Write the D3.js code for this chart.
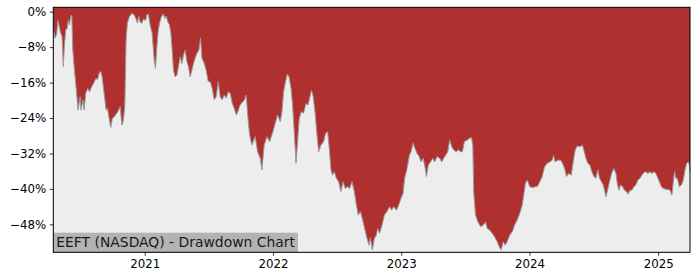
<!DOCTYPE html>
<html>
<head>
<meta charset="utf-8">
<script src="https://cdn.jsdelivr.net/npm/d3@7"></script>
<style>
  html, body { margin: 0; padding: 0; background: #ffffff; }
  svg { display: block; }
  text { font-family: "DejaVu Sans", sans-serif; }
</style>
</head>
<body>
<script>
// Decimal-year time stamps
const dates = [
  2020.290,2020.304,2020.317,2020.325,2020.337,2020.348,2020.358,2020.368,2020.376,2020.387,
  2020.397,2020.407,2020.415,2020.426,2020.434,2020.442,2020.452,2020.467,2020.483,2020.499,
  2020.506,2020.520,2020.530,2020.543,2020.559,2020.571,2020.590,2020.610,2020.623,2020.634,
  2020.647,2020.660,2020.670,2020.686,2020.701,2020.712,2020.725,2020.738,2020.750,2020.766,
  2020.785,2020.800,2020.811,2020.824,2020.836,2020.847,2020.857,2020.867,2020.883,2020.902,
  2020.920,2020.935,2020.945,2020.956,2020.966,2020.980,2020.992,2021.008,2021.019,2021.031,
  2021.044,2021.060,2021.076,2021.086,2021.097,2021.107,2021.117,2021.133,2021.146,2021.159,
  2021.169,2021.182,2021.195,2021.206,2021.216,2021.226,2021.239,2021.253,2021.265,2021.278,
  2021.292,2021.304,2021.317,2021.331,2021.343,2021.356,2021.370,2021.382,2021.395,2021.409,
  2021.424,2021.437,2021.448,2021.466,2021.481,2021.497,2021.512,2021.528,2021.543,2021.559,
  2021.575,2021.590,2021.606,2021.621,2021.637,2021.653,2021.668,2021.684,2021.699,2021.715,
  2021.728,2021.741,2021.754,2021.767,2021.780,2021.793,2021.803,2021.819,2021.837,2021.863,
  2021.881,2021.902,2021.915,2021.933,2021.954,2021.975,2022.001,2022.019,2022.037,2022.058,
  2022.071,2022.084,2022.099,2022.113,2022.126,2022.142,2022.154,2022.167,2022.181,2022.193,
  2022.206,2022.222,2022.240,2022.258,2022.274,2022.287,2022.302,2022.315,2022.331,2022.344,
  2022.357,2022.375,2022.396,2022.411,2022.427,2022.440,2022.453,2022.466,2022.479,2022.495,
  2022.513,2022.531,2022.547,2022.565,2022.583,2022.598,2022.617,2022.635,2022.651,2022.666,
  2022.682,2022.700,2022.715,2022.734,2022.750,2022.760,2022.775,2022.791,2022.807,2022.817,
  2022.832,2022.851,2022.869,2022.890,2022.910,2022.926,2022.942,2022.963,2022.981,2022.999,
  2023.015,2023.027,2023.046,2023.064,2023.077,2023.093,2023.108,2023.124,2023.140,2023.155,
  2023.171,2023.183,2023.197,2023.212,2023.228,2023.246,2023.261,2023.280,2023.300,2023.316,
  2023.331,2023.347,2023.363,2023.378,2023.394,2023.409,2023.428,2023.446,2023.462,2023.477,
  2023.493,2023.514,2023.529,2023.547,2023.558,2023.565,2023.579,2023.597,2023.618,2023.639,
  2023.657,2023.670,2023.690,2023.709,2023.727,2023.748,2023.763,2023.779,2023.795,2023.810,
  2023.826,2023.846,2023.865,2023.883,2023.904,2023.924,2023.943,2023.955,2023.968,2023.982,
  2024.002,2024.023,2024.046,2024.060,2024.080,2024.099,2024.117,2024.138,2024.158,2024.177,
  2024.187,2024.200,2024.220,2024.241,2024.257,2024.273,2024.288,2024.306,2024.325,2024.340,
  2024.356,2024.372,2024.392,2024.411,2024.423,2024.439,2024.454,2024.470,2024.485,2024.501,
  2024.517,2024.532,2024.545,2024.561,2024.574,2024.584,2024.595,2024.608,2024.623,2024.639,
  2024.657,2024.673,2024.683,2024.696,2024.709,2024.725,2024.740,2024.756,2024.769,2024.782,
  2024.797,2024.813,2024.828,2024.844,2024.860,2024.875,2024.891,2024.906,2024.922,2024.938,
  2024.953,2024.969,2024.984,2025.000,2025.016,2025.031,2025.047,2025.062,2025.078,2025.094,
  2025.109,2025.120,2025.130,2025.140,2025.151,2025.167,2025.183,2025.198,2025.211,2025.224,
  2025.237,2025.245,2025.250
];

// Drawdown in percent
const drawdown = [
  -3.8,-6.0,-4.9,-2.0,-3.4,-4.9,-5.6,-12.4,-7.9,-4.1,
  -3.8,-1.9,-3.0,-1.0,-0.75,-8.7,-12.4,-16.9,-22.2,-19.2,
  -22.2,-19.9,-22.2,-18.4,-17.3,-18.1,-16.9,-15.8,-15.0,-15.4,
  -13.9,-13.5,-14.7,-18.4,-22.2,-21.8,-24.1,-26.1,-24.1,-23.7,
  -22.9,-22.2,-21.4,-25.6,-24.5,-21.4,-6.4,-2.6,-1.1,-0.4,
  -0.75,-1.7,-2.6,-1.1,-2.3,-2.6,-1.7,-2.0,-0.75,-0.5,
  -3.0,-4.9,-10.9,-12.8,-7.9,-4.5,-2.6,-1.1,-0.5,-1.5,
  -1.0,-2.3,-3.0,-4.9,-8.7,-13.2,-14.7,-14.3,-12.4,-10.2,
  -11.7,-9.8,-8.7,-11.3,-12.4,-14.7,-13.2,-11.7,-10.5,-9.4,
  -8.7,-6.0,-10.5,-11.7,-13.2,-15.8,-15.8,-17.3,-19.9,-19.2,
  -15.8,-19.2,-19.9,-18.8,-19.5,-18.1,-18.4,-20.7,-21.8,-23.3,
  -22.6,-21.4,-20.7,-20.3,-19.9,-18.8,-22.9,-27.8,-30.1,-28.2,
  -31.6,-33.1,-35.7,-30.1,-28.2,-29.3,-27.1,-25.2,-23.3,-24.8,
  -22.6,-18.1,-15.8,-14.1,-14.7,-17.3,-21.1,-27.1,-34.2,-29.3,
  -24.1,-22.6,-22.9,-20.7,-21.1,-19.5,-17.7,-19.2,-23.3,-27.8,
  -31.6,-30.1,-29.3,-27.5,-27.1,-30.9,-35.7,-36.9,-36.1,-37.6,
  -38.4,-40.6,-38.4,-39.9,-39.5,-39.9,-38.4,-40.6,-43.6,-45.9,
  -45.1,-47.0,-48.9,-51.2,-52.7,-51.0,-53.8,-51.2,-50.4,-48.9,
  -50.0,-48.2,-45.9,-45.1,-44.0,-44.8,-44.0,-44.8,-43.6,-42.1,
  -41.0,-37.6,-35.4,-32.4,-31.6,-29.7,-30.9,-32.0,-32.7,-33.9,
  -33.1,-34.6,-37.2,-34.6,-33.9,-33.1,-33.9,-32.7,-33.1,-33.9,
  -33.1,-32.4,-31.6,-29.0,-30.5,-31.2,-31.6,-31.2,-31.6,-31.6,
  -29.3,-29.0,-28.6,-28.4,-30.1,-40.6,-45.9,-47.4,-48.5,-48.2,
  -47.4,-48.9,-49.3,-50.0,-50.8,-51.9,-53.0,-53.8,-51.9,-52.7,
  -51.9,-50.4,-49.7,-48.2,-47.0,-45.5,-43.6,-41.4,-38.7,-38.0,
  -39.5,-39.7,-39.5,-39.5,-38.4,-37.2,-35.0,-34.2,-33.9,-33.5,
  -32.5,-33.9,-33.5,-33.5,-34.2,-35.4,-37.2,-36.5,-36.9,-33.9,
  -31.2,-30.3,-30.5,-30.1,-31.2,-33.1,-34.2,-34.6,-36.1,-37.2,
  -37.6,-35.7,-37.6,-38.4,-39.1,-40.3,-41.8,-40.3,-38.4,-36.5,
  -35.4,-36.5,-38.7,-40.3,-39.1,-39.5,-40.3,-40.6,-41.2,-40.3,
  -40.3,-39.5,-39.1,-38.0,-37.6,-36.9,-36.3,-36.1,-36.5,-36.1,
  -36.5,-36.1,-36.5,-37.6,-38.7,-39.7,-39.9,-40.1,-40.1,-40.3,
  -41.4,-38.4,-36.1,-37.6,-37.6,-39.5,-39.1,-38.0,-35.7,-34.2,
  -33.9,-34.6,-36.1
];

const yTicks = [0, -8, -16, -24, -32, -40, -48];
const xTickYears = [2021, 2022, 2023, 2024, 2025];
const chartLabel = "EEFT (NASDAQ) - Drawdown Chart";

const W = 700, H = 280;
const M = { left: 53.3, right: 690, top: 7.3, bottom: 252.3 };
const YEAR_MS = 365.25 * 864e5;
const toDate = y => new Date(Date.UTC(2020, 0, 1) + (y - 2020) * YEAR_MS);

const data = dates.map((d, i) => ({ t: toDate(d), v: drawdown[i] }));

const svg = d3.select("body").append("svg").attr("width", W).attr("height", H);

const x = d3.scaleUtc().domain(d3.extent(data, d => d.t)).range([M.left, M.right]);
const y = d3.scaleLinear().domain([-54.3, 0.99]).range([M.bottom, M.top]);

// plot background (red drawdown region)
svg.append("rect")
  .attr("x", M.left).attr("y", M.top)
  .attr("width", M.right - M.left).attr("height", M.bottom - M.top)
  .attr("fill", "#b03030");

const area = d3.area().x(d => x(d.t)).y0(M.bottom).y1(d => y(d.v));
svg.append("path").datum(data).attr("d", area).attr("fill", "#ededed");

const line = d3.line().x(d => x(d.t)).y(d => y(d.v));
svg.append("path").datum(data).attr("d", line)
  .attr("fill", "none").attr("stroke", "#9a9a9a").attr("stroke-width", 1);

// label box
const lg = svg.append("g");
const lt = lg.append("text")
  .attr("x", M.left + 3).attr("y", 246.7)
  .attr("font-size", 13.9).attr("fill", "#1a1a1a")
  .text(chartLabel);
const tw = lt.node().getComputedTextLength();
lg.insert("rect", "text")
  .attr("x", M.left).attr("y", 232.7)
  .attr("width", tw + 6).attr("height", M.bottom - 232.7)
  .attr("fill", "#b3b3b3");

// axes
const fmt = d => (d < 0 ? "\u2212" : "") + Math.abs(d) + "%";
const yAxis = d3.axisLeft(y).tickValues(yTicks).tickFormat(fmt).tickSize(3.5).tickPadding(3.5);
const gy = svg.append("g").attr("transform", `translate(${M.left},0)`).call(yAxis);
gy.select(".domain").remove();
gy.selectAll("text").attr("font-size", 11.8).attr("fill", "#000").attr("font-family", "DejaVu Sans");
gy.selectAll("line").attr("stroke", "#000").attr("stroke-width", 0.8);

const xAxis = d3.axisBottom(x)
  .tickValues(xTickYears.map(yr => new Date(Date.UTC(yr, 0, 1))))
  .tickFormat(d3.utcFormat("%Y")).tickSize(3.5).tickPadding(3.5);
const gx = svg.append("g").attr("transform", `translate(0,${M.bottom})`).call(xAxis);
gx.select(".domain").remove();
gx.selectAll("text").attr("font-size", 11.8).attr("fill", "#000").attr("font-family", "DejaVu Sans");
gx.selectAll("line").attr("stroke", "#000").attr("stroke-width", 0.8);

// frame
svg.append("rect")
  .attr("x", M.left).attr("y", M.top)
  .attr("width", M.right - M.left).attr("height", M.bottom - M.top)
  .attr("fill", "none").attr("stroke", "#000").attr("stroke-width", 1);
</script>
</body>
</html>
